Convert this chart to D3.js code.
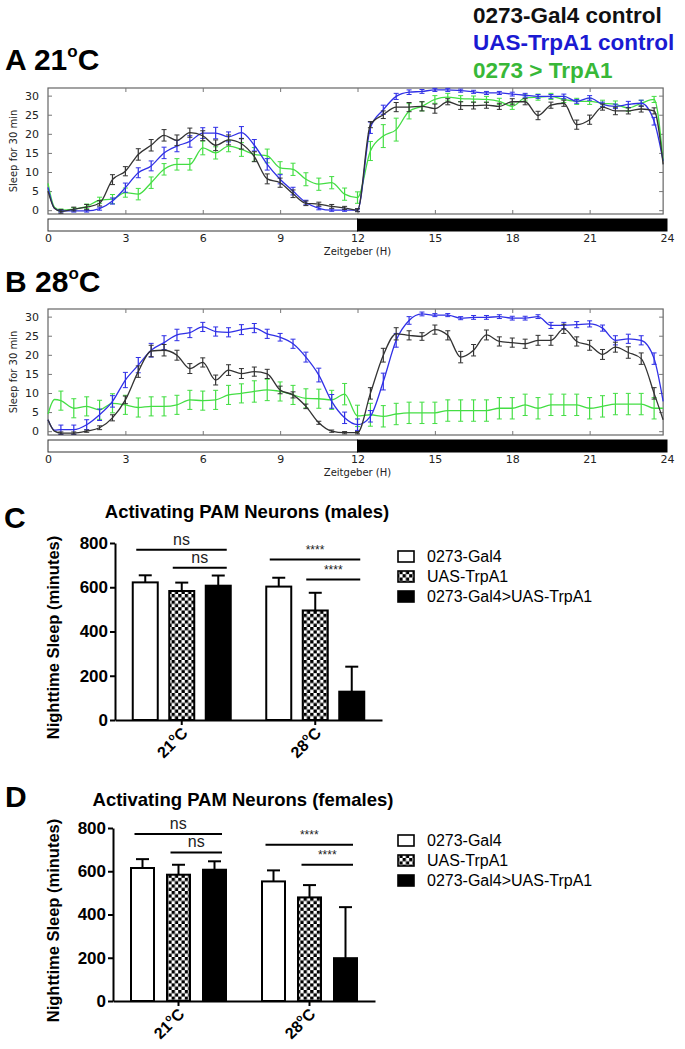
<!DOCTYPE html>
<html><head><meta charset="utf-8">
<script src="https://cdn.jsdelivr.net/npm/d3@7/dist/d3.min.js"></script>
<style>body{margin:0;background:#fff}</style>
</head><body>
<svg id="fig" width="685" height="1049" xmlns="http://www.w3.org/2000/svg"></svg>
<script>
// ---------------- DATA ----------------
const seriesNames = ["0273-Gal4 control", "UAS-TrpA1 control", "0273 > TrpA1"];
const hours = [0,0.25,0.5,1,1.5,2,2.5,3,3.5,4,4.5,5,5.5,6,6.5,7,7.5,8,8.5,9,9.5,10,10.5,11,11.5,12,12.5,13,13.5,14,14.5,15,15.5,16,16.5,17,17.5,18,18.5,19,19.5,20,20.5,21,21.5,22,22.5,23,23.5,23.85];
const hourTicks = [0,3,6,9,12,15,18,21,24];
const sleepTicks = [0,5,10,15,20,25,30];

// Panel A (21C)
const gal4_21 = [5,0.5,-0.3,0.3,0.8,1.8,8,10.2,14.6,17,19.6,18.3,20.3,19.5,17,18.4,17.4,14,8.2,7.2,4.3,1.8,1.6,1,0.6,0,22.4,25,27,27,27.2,26.6,28.4,27.4,27.4,27.5,27.2,28.4,28.4,24.8,27.5,28,22.4,23.7,27,26,26,26.5,26,12];
const uas_21 = [6,0.5,-0.2,-0.2,-0.2,0.4,2.4,5.9,9.8,11.6,15,16.8,18,20.2,20.2,19.2,20.3,17,12,8.1,5,2,0.5,0,0,0,21.6,26.3,29.8,30.9,31.1,31.5,31.5,31.3,31,30.7,30.7,30.4,30.1,29.8,29.8,29.8,28.5,29.4,27.7,27.2,27.7,28,23.3,12.9];
const trp_21 = [7,0.8,0,0.3,1,2.6,2.9,4.6,4.2,7.2,10.7,12,12,16.3,15,16.8,15.9,14.6,14.2,11.1,10.7,8.1,6.8,7.2,4.2,3.3,15.5,19.4,21.1,25.9,27.2,29,29.6,29.2,29.1,29,28.5,27.2,29.4,29.6,29.8,29,28.5,28.5,28,27.7,26.8,28,29,12.9];
const gal4_21_err = [0,0,0.5,0.5,0.7,0.7,1.3,1.2,1.5,1.5,1.5,1.4,1.2,1.3,1.4,1.3,1.4,1.3,1.3,1.2,1.0,0.6,0.5,0.5,0.4,0.4,0.8,1.0,1.2,1.2,1.2,1.2,0.8,1.0,0.9,0.8,0.8,0.8,0.8,1.1,0.8,0.8,1.2,1.2,0.8,1.0,0.8,0.8,0.8,0];
const uas_21_err = [0,0,0.3,0.3,0.3,0.4,0.8,1.2,1.3,1.3,1.5,1.5,1.5,1.4,1.5,1.3,1.6,1.5,1.5,1.2,1.0,0.6,0.4,0.3,0.3,0.3,1.5,1.2,0.8,0.6,0.5,0.4,0.4,0.4,0.4,0.4,0.4,0.5,0.5,0.5,0.5,0.6,0.5,0.6,0.6,0.6,0.8,0.8,1.0,0];
const trp_21_err = [0,0,0.3,0.4,0.6,0.8,1.2,1.2,1.5,1.5,1.5,1.5,1.5,1.8,1.6,1.5,1.8,1.8,1.8,1.6,1.6,1.7,1.6,1.6,1.6,1.5,2.5,3.0,3.0,2.0,1.2,1.0,1.0,0.8,0.8,0.8,0.8,0.8,0.8,0.8,0.8,0.8,0.8,0.8,0.8,0.9,0.9,0.8,0.8,0];

// Panel B (28C)
const gal4_28 = [3,0,-0.5,-0.5,0,0.9,3.5,8.2,15.6,21,21.2,19.9,16.4,18,13.4,16,15.1,15.6,15,10.8,9.5,6.5,2.2,0,-0.4,-0.4,9.9,19.9,25.5,25.1,24.8,26.6,25.1,19.4,21.2,25.2,23.5,23.2,22.9,23.8,23.8,26.8,23.5,22.5,20.1,22,20.6,19,9.9,3];
const uas_28 = [3,0.3,0.4,0.4,1.7,4.3,7.8,13.4,17.3,21.2,23.2,25.2,25.8,27.3,26.1,25.9,26.6,27,25.5,24.6,22.9,19.4,14.7,7.8,3.5,1.7,3.9,13,23.8,29,30.7,30.4,30.4,29.6,29.8,29.8,30,29.6,29.6,30,27.7,27.7,27.9,28.1,27,23.8,24.2,23.8,19,7.8];
const trp_28 = [4.5,8.3,8,6,6.5,5.6,7.3,6.9,6.2,6.5,6.5,6.9,8.2,8,8.2,9.5,9.9,10.4,10.8,10.4,9.5,8.6,8.5,8.2,9.7,4,4.3,3.9,4.5,4.8,4.8,4.8,5.4,5.4,5.4,5.4,6,6,6.9,6,6.9,6.9,6.9,6,6.5,7.1,7.1,7.1,6,6];
const gal4_28_err = [0,0,0.3,0.3,0.3,0.5,0.8,1.0,1.5,1.5,1.5,1.3,1.3,1.2,1.3,1.4,1.3,1.2,1.2,1.0,0.8,0.6,0.4,0.3,0.3,0.3,1.5,1.8,1.6,1.2,1.0,1.2,1.2,1.5,1.5,1.3,1.2,1.2,1.2,1.3,1.3,1.2,1.2,1.3,1.3,1.3,1.5,1.5,1.5,0];
const uas_28_err = [0,0,1.2,1.2,1.3,1.5,1.5,2.0,2.0,1.8,1.8,1.5,1.3,1.2,1.2,1.2,1.3,1.2,1.2,1.0,1.2,1.3,1.8,1.8,1.5,1.5,1.5,2.2,1.8,1.0,0.5,0.4,0.4,0.4,0.5,0.5,0.5,0.5,0.5,0.5,0.8,0.8,0.8,0.8,0.8,1.2,1.2,1.2,1.5,0];
const trp_28_err = [0,0,2.5,2.5,2.5,2.5,2.5,2.5,2.5,2.5,2.5,2.5,2.5,2.5,2.5,2.5,2.5,2.8,2.8,2.5,2.5,2.5,2.5,2.5,2.8,2.8,3.0,2.8,2.8,2.8,2.8,2.8,2.8,2.8,2.8,2.8,2.8,2.8,2.8,2.8,2.8,2.8,2.8,2.8,2.8,2.8,2.8,2.8,2.8,0];

// Bar charts
const tempGroups = ["21", "28"];
const genotypes = ["0273-Gal4", "UAS-TrpA1", "0273-Gal4>UAS-TrpA1"];
const minuteTicks = [0,200,400,600,800];
const male21 = [622,583,607], male21Err = [32,38,46];
const male28 = [603,495,128], male28Err = [40,80,113];
const female21 = [615,584,607], female21Err = [41,46,39];
const female28 = [553,479,198], female28Err = [51,57,236];
const maleSig = [
  {label:"ns", group:0, from:0, to:2, level:770},
  {label:"ns", group:0, from:1, to:2, level:688},
  {label:"****", group:1, from:0, to:2, level:725},
  {label:"****", group:1, from:1, to:2, level:635}];
const femaleSig = [
  {label:"ns", group:0, from:0, to:2, level:772},
  {label:"ns", group:0, from:1, to:2, level:687},
  {label:"****", group:1, from:0, to:2, level:723},
  {label:"****", group:1, from:1, to:2, level:630}];

// ---------------- DRAW ----------------
const svg = d3.select("#fig");
svg.append("rect").attr("width",685).attr("height",1049).attr("fill","#fff");
const ARIAL = "'Liberation Sans', Arial, sans-serif";
const DEJAVU = "'DejaVu Sans', sans-serif";
const lineColors = ["#333333", "#3030e6", "#44de44"];
const legendColors = ["#111111", "#1a1ad2", "#38b838"];

const defs = svg.append("defs");
const pat = defs.append("pattern").attr("id","checker").attr("width",6.6).attr("height",6.6).attr("patternUnits","userSpaceOnUse");
pat.append("rect").attr("width",6.6).attr("height",6.6).attr("fill","#fff");
pat.append("rect").attr("width",3.3).attr("height",3.3).attr("fill","#000");
pat.append("rect").attr("x",3.3).attr("y",3.3).attr("width",3.3).attr("height",3.3).attr("fill","#000");

// top legend
const leg = svg.append("g").attr("font-family", ARIAL).attr("font-weight","bold").attr("font-size",22.5);
seriesNames.forEach((n,i)=>{
  leg.append("text").attr("x",473).attr("y",[23,50,78][i]).attr("fill",legendColors[i]).text(n);
});

function panelTitle(y, letter, temp){
  const t = svg.append("text").attr("x",5).attr("y",y).attr("font-family",ARIAL).attr("font-weight","bold").attr("font-size",30).attr("fill","#000");
  t.append("tspan").text(letter + " " + temp);
  t.append("tspan").attr("font-size",17).attr("dy",-13).text("o");
  t.append("tspan").attr("dy",13).text("C");
}

function drawTS(top, sets){
  const bottom = top + 126;
  const xEnd = hours[hours.length-1];
  const x = d3.scaleLinear().domain([0,24]).range([48,667]);
  const y = d3.scaleLinear().domain([-1,32]).range([bottom, top]);
  const g = svg.append("g");
  const boxW = x(xEnd) - x(0);
  g.append("rect").attr("x",x(0)).attr("y",top).attr("width",boxW).attr("height",bottom-top)
    .attr("fill","#fff").attr("stroke","#666").attr("stroke-width",1.2);
  const xIn = d3.scaleLinear().domain([0,xEnd]).range([x(0), x(xEnd)]);
  const inner = hourTicks.filter(h=>h>0 && h<24);
  const tb = g.append("g").attr("transform",`translate(0,${bottom})`).call(d3.axisBottom(x).tickValues(inner).tickSize(-4).tickFormat(""));
  const tt = g.append("g").attr("transform",`translate(0,${top})`).call(d3.axisTop(x).tickValues(inner).tickSize(-4).tickFormat(""));
  const tl = g.append("g").attr("transform",`translate(${x(0)},0)`).call(d3.axisLeft(y).tickValues(sleepTicks).tickSize(-4).tickFormat(""));
  const tr = g.append("g").attr("transform",`translate(${x(xEnd)},0)`).call(d3.axisRight(y).tickValues(sleepTicks).tickSize(-4).tickFormat(""));
  [tb,tt,tl,tr].forEach(a=>{a.select(".domain").remove(); a.selectAll("line").attr("stroke","#777");});
  // y labels
  const yl = g.append("g").attr("transform",`translate(${x(0)},0)`).call(d3.axisLeft(y).tickValues(sleepTicks).tickSize(0).tickPadding(9));
  yl.select(".domain").remove();
  yl.selectAll("text").attr("font-family",DEJAVU).attr("font-size",11).attr("fill","#222");
  g.append("text").attr("transform",`translate(17,${(top+bottom)/2}) rotate(-90)`).attr("text-anchor","middle")
    .attr("font-family",DEJAVU).attr("font-size",10).attr("fill","#222").text("Sleep for 30 min");
  // LD bar
  const ldTop = bottom + 5, ldH = 12;
  g.append("rect").attr("x",x(0)).attr("y",ldTop).attr("width",x(12)-x(0)).attr("height",ldH).attr("fill","#fff").attr("stroke","#333").attr("stroke-width",1);
  g.append("rect").attr("x",x(12)).attr("y",ldTop).attr("width",x(24)-x(12)).attr("height",ldH).attr("fill","#000").attr("stroke","#000").attr("stroke-width",1);
  const xl = g.append("g").attr("transform",`translate(0,${ldTop+ldH})`).call(d3.axisBottom(x).tickValues(hourTicks).tickSize(0).tickPadding(3));
  xl.select(".domain").remove();
  xl.selectAll("text").attr("font-family",DEJAVU).attr("font-size",11).attr("fill","#222");
  g.append("text").attr("x",x(12)).attr("y",ldTop+ldH+24).attr("text-anchor","middle")
    .attr("font-family",DEJAVU).attr("font-size",10).attr("fill","#222").text("Zeitgeber (H)");
  // series
  const line = d3.line().x(d=>xIn(d.h)).y(d=>y(d.v)).curve(d3.curveMonotoneX);
  [2,1,0].forEach(i=>{
    const vals = sets[i][0], errs = sets[i][1];
    const pts = hours.map((h,k)=>({h:h, v:vals[k], e:errs[k]}));
    const sg = g.append("g").attr("stroke",lineColors[i]).attr("fill","none");
    sg.append("path").attr("d",line(pts)).attr("stroke-width",1.3);
    const eb = pts.filter(p=>p.e>0);
    sg.selectAll("line.v").data(eb).join("line").attr("x1",d=>xIn(d.h)).attr("x2",d=>xIn(d.h))
      .attr("y1",d=>y(d.v-d.e)).attr("y2",d=>y(d.v+d.e)).attr("stroke-width",1.2);
    sg.selectAll("line.t").data(eb).join("line").attr("x1",d=>xIn(d.h)-2.5).attr("x2",d=>xIn(d.h)+2.5)
      .attr("y1",d=>y(d.v+d.e)).attr("y2",d=>y(d.v+d.e)).attr("stroke-width",1);
    sg.selectAll("line.b").data(eb).join("line").attr("x1",d=>xIn(d.h)-2.5).attr("x2",d=>xIn(d.h)+2.5)
      .attr("y1",d=>y(d.v-d.e)).attr("y2",d=>y(d.v-d.e)).attr("stroke-width",1);
  });
}

panelTitle(70, "A", "21");
drawTS(88, [[gal4_21,gal4_21_err],[uas_21,uas_21_err],[trp_21,trp_21_err]]);
panelTitle(292, "B", "28");
drawTS(309, [[gal4_28,gal4_28_err],[uas_28,uas_28_err],[trp_28,trp_28_err]]);

function drawBars(cfg){
  const g = svg.append("g").attr("font-family",ARIAL);
  const x0 = d3.scaleBand().domain(tempGroups).range([cfg.ax0, cfg.ax1]);
  const x1 = d3.scalePoint().domain(genotypes).range([-cfg.step, cfg.step]);
  const y = d3.scaleLinear().domain([0,800]).range([cfg.y0, cfg.y800]);
  const fills = ["#fff","url(#checker)","#000"];
  // letter + title
  g.append("text").attr("x",cfg.letterX).attr("y",cfg.letterY).attr("font-weight","bold").attr("font-size",30).text(cfg.letter);
  g.append("text").attr("x",cfg.titleX).attr("y",cfg.titleY).attr("text-anchor","middle").attr("font-weight","bold").attr("font-size",18.5).text(cfg.title);
  // y label
  g.append("text").attr("transform",`translate(59,${(cfg.y0+cfg.y800)/2+6}) rotate(-90)`).attr("text-anchor","middle")
    .attr("font-weight","bold").attr("font-size",16.5).text("Nighttime Sleep (minutes)");
  // bars
  const data = [];
  tempGroups.forEach((tg,gi)=>genotypes.forEach((gt,k)=>data.push({tg,gt,k,gi,m:cfg.means[gi][k],e:cfg.errs[gi][k]})));
  const cx = d=>x0(d.tg)+x0.bandwidth()/2 + x1(d.gt);
  // error bars (upper only)
  g.selectAll("line.err").data(data).join("line").attr("x1",cx).attr("x2",cx).attr("y1",d=>y(d.m)).attr("y2",d=>y(d.m+d.e)).attr("stroke","#000").attr("stroke-width",2);
  g.selectAll("line.cap").data(data).join("line").attr("x1",d=>cx(d)-6.5).attr("x2",d=>cx(d)+6.5).attr("y1",d=>y(d.m+d.e)).attr("y2",d=>y(d.m+d.e)).attr("stroke","#000").attr("stroke-width",2);
  g.selectAll("rect.bar").data(data).join("rect").attr("x",d=>cx(d)-cfg.bw/2).attr("width",cfg.bw)
    .attr("y",d=>y(d.m)).attr("height",d=>y(0)-y(d.m)).attr("fill",d=>fills[d.k]).attr("stroke","#000").attr("stroke-width",2);
  // axes
  const ya = g.append("g").attr("transform",`translate(${cfg.ax0},0)`).call(d3.axisLeft(y).tickValues(minuteTicks).tickSize(5).tickSizeOuter(0).tickPadding(2));
  ya.selectAll("path,line").attr("stroke","#000").attr("stroke-width",2);
  ya.selectAll("text").attr("font-family",ARIAL).attr("font-weight","bold").attr("font-size",17).attr("fill","#000");
  const xa = g.append("g").attr("transform",`translate(0,${cfg.y0})`).call(d3.axisBottom(x0).tickSize(5).tickSizeOuter(0).tickFormat(""));
  xa.selectAll("path,line").attr("stroke","#000").attr("stroke-width",2);
  // rotated x labels
  tempGroups.forEach(tg=>{
    const c = x0(tg)+x0.bandwidth()/2;
    const t = g.append("text").attr("transform",`translate(${c+7},${cfg.y0+14}) rotate(-45)`).attr("text-anchor","end")
      .attr("font-weight","bold").attr("font-size",16);
    t.append("tspan").text(tg);
    t.append("tspan").attr("font-size",10).attr("dy",-7).text("o");
    t.append("tspan").attr("dy",7).text("C");
  });
  // significance
  cfg.sig.forEach(s=>{
    const tg = tempGroups[s.group];
    const xa_ = cx({tg, gt:genotypes[s.from]}) - cfg.bw/2 + 3.5;
    const xb_ = cx({tg, gt:genotypes[s.to]}) + cfg.bw/2 - 4;
    g.append("line").attr("x1",xa_).attr("x2",xb_).attr("y1",y(s.level)).attr("y2",y(s.level)).attr("stroke","#000").attr("stroke-width",2);
    const isNs = s.label==="ns";
    g.append("text").attr("x",(xa_+xb_)/2).attr("y",y(s.level)-(isNs?5:6)).attr("text-anchor","middle")
      .attr("font-size",isNs?16:12).attr("fill","#222").text(s.label);
  });
  // legend
  genotypes.forEach((gt,k)=>{
    const by = cfg.legY + k*20;
    g.append("rect").attr("x",398).attr("y",by-11).attr("width",16).attr("height",11).attr("fill",fills[k]).attr("stroke","#000").attr("stroke-width",1.6);
    g.append("text").attr("x",427).attr("y",by).attr("font-size",16).attr("fill","#000").text(gt);
  });
}

drawBars({ax0:115, ax1:382, y0:720, y800:543, step:36.5, bw:25, means:[male21,male28], errs:[male21Err,male28Err], sig:maleSig,
  letter:"C", letterX:4, letterY:528, title:"Activating PAM Neurons (males)", titleX:247, titleY:518, legY:562});
drawBars({ax0:113, ax1:375, y0:1001, y800:828, step:36, bw:23, means:[female21,female28], errs:[female21Err,female28Err], sig:femaleSig,
  letter:"D", letterX:5, letterY:807, title:"Activating PAM Neurons (females)", titleX:243, titleY:806, legY:846});
</script>
</body></html>
